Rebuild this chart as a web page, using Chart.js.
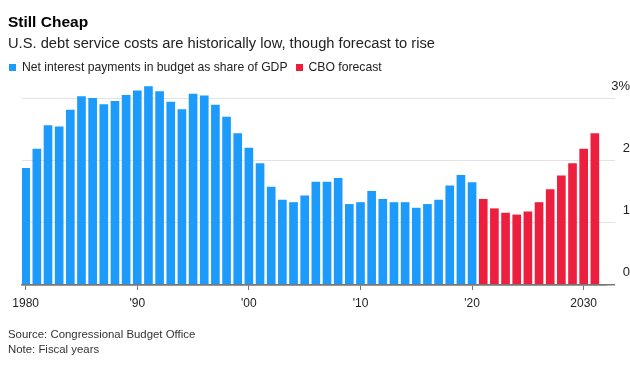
<!DOCTYPE html>
<html>
<head>
<meta charset="utf-8">
<script src="https://cdn.jsdelivr.net/npm/chart.js@4"></script>
<style>
  body { margin: 0; background: #fff; font-family: 'Liberation Sans', Arial, sans-serif; }
  #wrap { position: relative; width: 630px; height: 379px; overflow: hidden; }
  #chart { position: absolute; left: 0; top: 0; }
  .txt { position: absolute; left: 8px; line-height: 1; white-space: nowrap; color: #000; }
  #title { top: 14px; font-size: 15.5px; font-weight: bold; }
  #subtitle { top: 36px; font-size: 14.7px; color: #222; }
  #legend { top: 61px; font-size: 12.2px; color: #222; display: flex; }
  #legend span.item { display: flex; align-items: center; margin-right: 7px; }
  #legend i { display: inline-block; width: 7px; height: 7px; margin-right: 6px; margin-left: 1px; }
  .foot { font-size: 11.4px; color: #333; }
</style>
</head>
<body>
<div id="wrap">
  <canvas id="chart" width="630" height="379"></canvas>
  <div class="txt" id="title">Still Cheap</div>
  <div class="txt" id="subtitle">U.S. debt service costs are historically low, though forecast to rise</div>
  <div class="txt" id="legend"></div>
  <div class="txt foot" style="top:329px">Source: Congressional Budget Office</div>
  <div class="txt foot" style="top:344px">Note: Fiscal years</div>
</div>
<script>
// Net interest as % of GDP
const histYears = [];
for (let y = 1980; y <= 2020; y++) histYears.push(y);
const histValues = [1.88, 2.19, 2.57, 2.55, 2.82, 3.04, 3.01, 2.91, 2.96, 3.06,
                    3.13, 3.20, 3.12, 2.95, 2.83, 3.08, 3.05, 2.90, 2.71, 2.44,
                    2.21, 1.96, 1.58, 1.37, 1.33, 1.44, 1.66, 1.66, 1.72, 1.30,
                    1.33, 1.51, 1.38, 1.33, 1.33, 1.24, 1.30, 1.37, 1.60, 1.77,
                    1.65];
const forecastYears = [];
for (let y = 2021; y <= 2031; y++) forecastYears.push(y);
const forecastValues = [1.38, 1.23, 1.16, 1.13, 1.18, 1.33, 1.54, 1.76, 1.96, 2.19, 2.44];

const seriesLabels = ['Net interest payments in budget as share of GDP', 'CBO forecast'];
const seriesColors = ['#1c9bfc', '#ec1f3f'];

const xTickYears = [1980, 1990, 2000, 2010, 2020, 2030];
const xTickLabels = ['1980', "'90", "'00", "'10", "'20", '2030'];
const yTickValues = [0, 1, 2, 3];
const yTickLabels = ['0', '1', '2', '3%'];

// html legend
const legend = document.getElementById('legend');
seriesLabels.forEach((label, i) => {
    const s = document.createElement('span');
    s.className = 'item';
    s.innerHTML = '<i style="background:' + seriesColors[i] + '"></i>' + label;
    legend.appendChild(s);
});

const toPoints = (xs, ys) => xs.map((x, i) => ({ x: x, y: ys[i] }));
const fontFamily = "'Liberation Sans', Arial, sans-serif";

new Chart(document.getElementById('chart'), {
    type: 'bar',
    data: {
        datasets: [
            { label: seriesLabels[0], data: toPoints(histYears, histValues), backgroundColor: seriesColors[0] },
            { label: seriesLabels[1], data: toPoints(forecastYears, forecastValues), backgroundColor: seriesColors[1] }
        ]
    },
    options: {
        responsive: false,
        animation: false,
        layout: { padding: { left: 22, right: 0, top: 80, bottom: 64 } },
        datasets: { bar: { grouped: false, barThickness: 8, borderWidth: 0 } },
        plugins: { legend: { display: false }, tooltip: { enabled: false } },
        scales: {
            x: {
                type: 'linear',
                offset: false,
                min: 1979.67,
                max: 2032.0,
                afterFit: (s) => { s.height = 30; },
                afterBuildTicks: (s) => { s.ticks = xTickYears.map(v => ({ value: v })); },
                grid: { offset: false, drawOnChartArea: false, drawTicks: true, tickLength: 5, color: '#777' },
                border: { display: true, color: '#777', width: 1.5, z: 1 },
                ticks: {
                    autoSkip: false,
                    maxRotation: 0,
                    padding: 6,
                    color: '#222',
                    font: { family: fontFamily, size: 12 },
                    callback: (v) => xTickLabels[xTickYears.indexOf(v)]
                }
            },
            y: {
                position: 'right',
                min: 0,
                max: 3.306,
                afterFit: (s) => { s.width = 24; },
                afterBuildTicks: (s) => { s.ticks = yTickValues.map(v => ({ value: v })); },
                grid: {
                    color: (c) => c.tick && c.tick.value === 0 ? '#777' : '#e3e3e3',
                    lineWidth: (c) => c.tick && c.tick.value === 0 ? 1.5 : 1,
                    drawTicks: true,
                    tickLength: 9
                },
                border: { display: false },
                ticks: {
                    crossAlign: 'far',
                    padding: -7,
                    labelOffset: -13,
                    color: '#222',
                    font: { family: fontFamily, size: 13 },
                    callback: (v) => yTickLabels[yTickValues.indexOf(v)]
                }
            }
        }
    }
});
</script>
</body>
</html>
